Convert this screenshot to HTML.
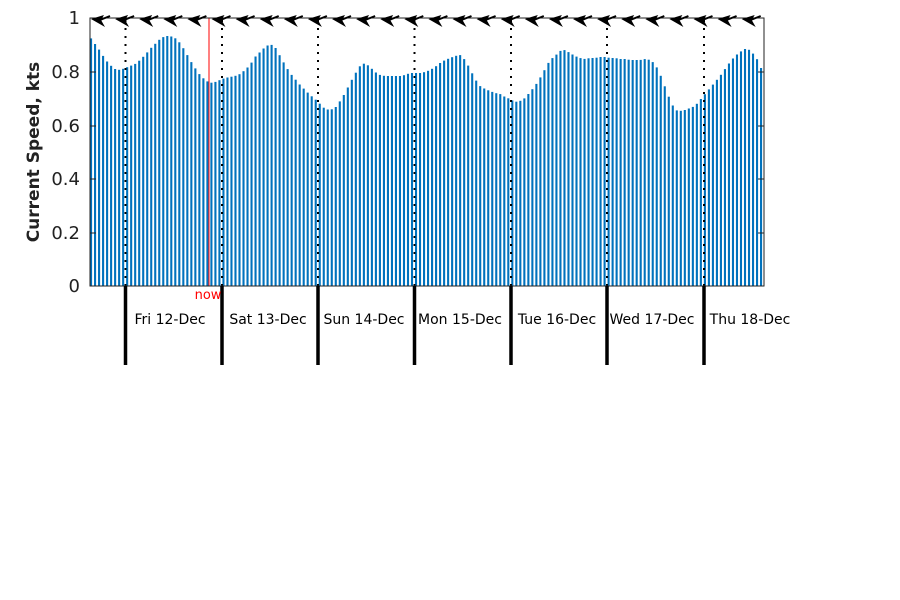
<!DOCTYPE html>
<html><head><meta charset="utf-8"><style>
body{margin:0;background:#fff;width:900px;height:600px;overflow:hidden}
svg{display:block;font-family:"DejaVu Sans","Liberation Sans",sans-serif}
</style></head><body>
<svg id="s" width="900" height="600" xmlns="http://www.w3.org/2000/svg">
<g id="bars" fill="#0072BD"></g>
<g id="dots" stroke="#000" stroke-width="2" stroke-dasharray="2,6"></g>
<line x1="209" y1="18" x2="209" y2="286" stroke="#f00" stroke-width="1"/>
<rect x="90" y="18" width="674" height="268" fill="none" stroke="#222" stroke-width="1"/>
<g stroke="#222" stroke-width="1">
<line x1="90" y1="72" x2="96" y2="72"/><line x1="90" y1="126" x2="96" y2="126"/><line x1="90" y1="179" x2="96" y2="179"/><line x1="90" y1="233" x2="96" y2="233"/>
<line x1="758" y1="72" x2="764" y2="72"/><line x1="758" y1="126" x2="764" y2="126"/><line x1="758" y1="179" x2="764" y2="179"/><line x1="758" y1="233" x2="764" y2="233"/>
</g>
<g id="arrows" fill="#000" stroke="#000"></g>
<g font-size="18" fill="#222" text-anchor="end">
<text x="80" y="24">1</text><text x="80" y="78">0.8</text><text x="80" y="132">0.6</text><text x="80" y="185">0.4</text><text x="80" y="239">0.2</text><text x="80" y="292">0</text>
</g>
<text transform="translate(39,152) rotate(-90)" font-size="17" font-weight="bold" fill="#222" text-anchor="middle">Current Speed, kts</text>
<g stroke="#000" stroke-width="3.5" id="thick"></g>
<text x="208" y="299" font-size="13" fill="#f00" text-anchor="middle">now</text>
<g font-size="14" fill="#000" text-anchor="middle">
<text x="170" y="324">Fri 12-Dec</text><text x="268" y="324">Sat 13-Dec</text><text x="364" y="324">Sun 14-Dec</text><text x="460" y="324">Mon 15-Dec</text><text x="557" y="324">Tue 16-Dec</text><text x="652" y="324">Wed 17-Dec</text><text x="750" y="324">Thu 18-Dec</text>
</g>
</svg>
<script>
var k=[90,37,95,44,100,51,105,59,110,65,115,69,120,70,125,68,130,66,135,64,140,60,145,55,150,49,155,44,160,39,165,36,170,36,175,38,180,43,185,51,190,60,195,68,200,75,205,80,210,83,215,82,220,80,225,78,230,77,235,76,240,74,245,70,250,65,255,57,260,52,265,47,270,44,275,47,280,56,285,65,290,73,295,79,300,85,305,90,310,95,315,99,320,104,325,109,330,110,335,108,340,101,345,93,350,83,355,74,360,66,365,63,370,67,375,72,380,75,385,76,390,76,395,76,400,76,405,75,410,73,415,73,420,73,425,72,430,70,435,67,440,63,445,60,450,58,455,56,460,55,465,60,470,69,475,79,480,86,485,89,490,91,495,93,500,94,505,97,510,99,515,102,520,101,525,98,530,92,535,86,540,78,545,69,550,60,555,56,560,51,565,50,570,53,575,56,580,58,585,59,590,58,595,58,600,57,605,57,610,58,615,58,620,59,625,59,630,60,635,60,640,60,645,59,650,60,655,64,660,74,665,87,670,100,675,110,680,111,685,110,690,108,695,106,700,100,705,94,710,88,715,82,720,76,725,69,730,62,735,56,740,52,745,49,750,50,755,56,760,64,764,80];
function f(x){for(var i=0;i<k.length-2;i+=2){if(x>=k[i]&&x<=k[i+2]){var t=(x-k[i])/(k[i+2]-k[i]);return k[i+1]+t*(k[i+3]-k[i+1]);}}return k[k.length-1];}
var h="";
for(var i=0;i<168;i++){var x=90+i*4.012;var y=f(x+1);h+='<rect x="'+x.toFixed(2)+'" y="'+y.toFixed(1)+'" width="2.1" height="'+(286-y).toFixed(1)+'"/>';}
document.getElementById('bars').innerHTML=h;
var d=[125.5,222,318,414.5,511,607,704],dh="",th="";
d.forEach(function(x){dh+='<line x1="'+x+'" y1="20" x2="'+x+'" y2="286"/>';th+='<line x1="'+x+'" y1="286" x2="'+x+'" y2="365"/>';});
document.getElementById('dots').innerHTML=dh;document.getElementById('thick').innerHTML=th;
var a="";for(var x=100;x<764;x+=24.1){a+='<g transform="translate('+x.toFixed(1)+',21)"><polygon points="-9,-2 4,-6 1,-1 5,6" stroke="none"/><line x1="0" y1="-1" x2="10" y2="-5" stroke-width="2"/></g>';}
document.getElementById('arrows').innerHTML=a;
</script>
</body></html>
